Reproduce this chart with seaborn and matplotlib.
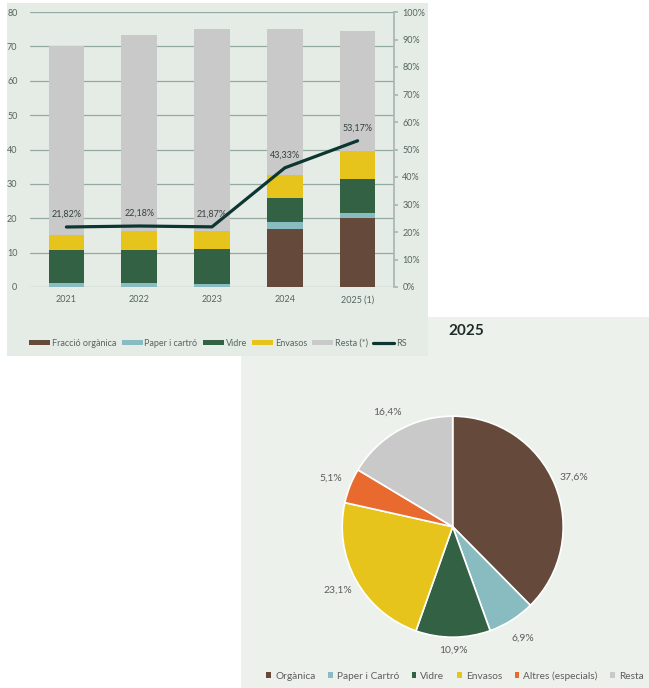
import matplotlib
matplotlib.use("Agg")
import matplotlib.pyplot as plt
from matplotlib.patches import Rectangle, Patch
from matplotlib.lines import Line2D
from matplotlib.ticker import FuncFormatter
import numpy as np
import seaborn as sns

# dades del gràfic de barres (milers de tones aprox.)
years = ["2021", "2022", "2023", "2024", "2025 (1)"]
organica = [0.0, 0.0, 0.0, 16.9, 20.0]
paper = [1.2, 1.2, 0.9, 1.9, 1.4]
vidre = [9.6, 9.7, 10.1, 7.2, 9.9]
envasos = [4.4, 5.3, 5.4, 6.5, 8.3]
resta = [55.0, 57.0, 58.7, 42.6, 34.9]
rs_pct = [21.82, 22.18, 21.87, 43.33, 53.17]
bar_labels = ["Fracció orgànica", "Paper i cartró", "Vidre", "Envasos", "Resta (*)"]

# dades del pastís 2025
pie_labels = ["Orgànica", "Paper i Cartró", "Vidre", "Envasos", "Altres (especials)", "Resta"]
pie_values = [37.6, 6.9, 10.9, 23.1, 5.1, 16.4]

c_org, c_pap, c_vid, c_env = "#654a3b", "#88bcc0", "#336143", "#e6c41b"
c_res, c_alt, c_rs = "#c9c9c9", "#e86a2e", "#0c3631"
bar_colors = [c_org, c_pap, c_vid, c_env, c_res]
pie_colors = [c_org, c_pap, c_vid, c_env, c_alt, c_res]
grid_c = "#93aaa3"
tick_c = "#56655f"

sns.set_theme(style="white")
plt.rcParams["font.family"] = ["Lato", "DejaVu Sans"]

fig = plt.figure(figsize=(6.49, 6.88), dpi=100)
W, H = 649, 688

def fx(px):
    return px / W

def fy(py):
    return (H - py) / H

# fons dels dos panells
fig.patches.append(Rectangle((fx(241), 0), fx(649 - 241), (688 - 317) / H,
                             transform=fig.transFigure, facecolor="#edf1eb",
                             edgecolor="none", zorder=-3))
fig.patches.append(Rectangle((fx(7), fy(356)), fx(428 - 7), (356 - 3) / H,
                             transform=fig.transFigure, facecolor="#e5ece5",
                             edgecolor="none", zorder=-2))

# ---- barres apilades ----
ax = fig.add_axes([fx(30), fy(287), fx(394 - 30), (287 - 12) / H])
ax.set_facecolor("none")
cum = np.cumsum([organica, paper, vidre, envasos, resta], axis=0)
for i in reversed(range(len(bar_colors))):
    sns.barplot(x=years, y=cum[i], color=bar_colors[i], saturation=1,
                width=0.49, errorbar=None, linewidth=0, ax=ax)
ax.set_ylim(0, 80)
ax.set_yticks(range(0, 81, 10))
ax.grid(axis="y", color=grid_c, lw=0.9)
ax.set_axisbelow(True)
for s in ax.spines.values():
    s.set_visible(False)
ax.tick_params(axis="both", length=0, labelsize=6.5, colors=tick_c)
ax.tick_params(axis="y", pad=9)
ax.tick_params(axis="x", pad=6)
ax.set_xlabel("")
ax.set_ylabel("")

ax2 = ax.twinx()
sns.lineplot(x=np.arange(len(years)), y=rs_pct, color=c_rs, lw=2.3, ax=ax2)
ax.set_xlim(-0.5, 4.5)
ax2.set_ylim(0, 100)
ax2.set_yticks(range(0, 101, 10))
ax2.yaxis.set_major_formatter(FuncFormatter(lambda v, p: f"{v:.0f}%"))
for k, s in ax2.spines.items():
    s.set_visible(k == "right")
ax2.spines["right"].set_color("#a9b6b2")
ax2.tick_params(axis="y", length=3, color="#a9b6b2", labelsize=6.5,
                labelcolor=tick_c, pad=3)
ax2.set_ylabel("")
ax2.grid(False)
for i, v in enumerate(rs_pct):
    ax2.annotate(f"{v:.2f}%".replace(".", ","), (i, v), xytext=(0, 6),
                 textcoords="offset points", ha="center", va="bottom",
                 fontsize=6.5, color="#34423f")

handles = [Patch(facecolor=c, edgecolor="none") for c in bar_colors]
handles.append(Line2D([], [], color=c_rs, lw=2.3))
fig.legend(handles, bar_labels + ["RS"], loc="center",
           bbox_to_anchor=(fx(218), fy(343)), ncol=6, frameon=False,
           fontsize=6.5, labelcolor=tick_c, handlelength=2.3,
           handleheight=0.55, handletextpad=0.2, columnspacing=0.6)

# ---- pastís 2025 ----
r_px = 110.5
cx, cy = 452.7, 526.7
half = 1.35 * r_px
axp = fig.add_axes([fx(cx - half), fy(cy + half), 2 * half / W, 2 * half / H])
wedges, texts, autotexts = axp.pie(
    pie_values, colors=pie_colors, startangle=90, counterclock=False,
    autopct=lambda p: f"{p:.1f}%".replace(".", ","), pctdistance=1.19,
    wedgeprops=dict(edgecolor="white", linewidth=1.2),
    textprops=dict(fontsize=7.5, color="#5d5d5d"))
# l'etiqueta de Vidre queda una mica més a prop de la vora
x0, y0 = autotexts[2].get_position()
autotexts[2].set_position((x0 * 1.12 / 1.19, y0 * 1.12 / 1.19))
axp.set_xlim(-1.35, 1.35)
axp.set_ylim(-1.35, 1.35)

fig.text(fx(466), fy(331), "2025", ha="center", va="center",
         fontsize=11, fontweight="bold", color="#1f2d2a")

pie_handles = [Patch(facecolor=c, edgecolor="none") for c in pie_colors]
fig.legend(pie_handles, pie_labels, loc="center",
           bbox_to_anchor=(fx(455), fy(676)), ncol=6, frameon=False,
           fontsize=7.3, labelcolor="#5d5d5d", handlelength=0.45,
           handleheight=0.45, handletextpad=0.4, columnspacing=1.25)

fig.savefig("out.png", dpi=100)
